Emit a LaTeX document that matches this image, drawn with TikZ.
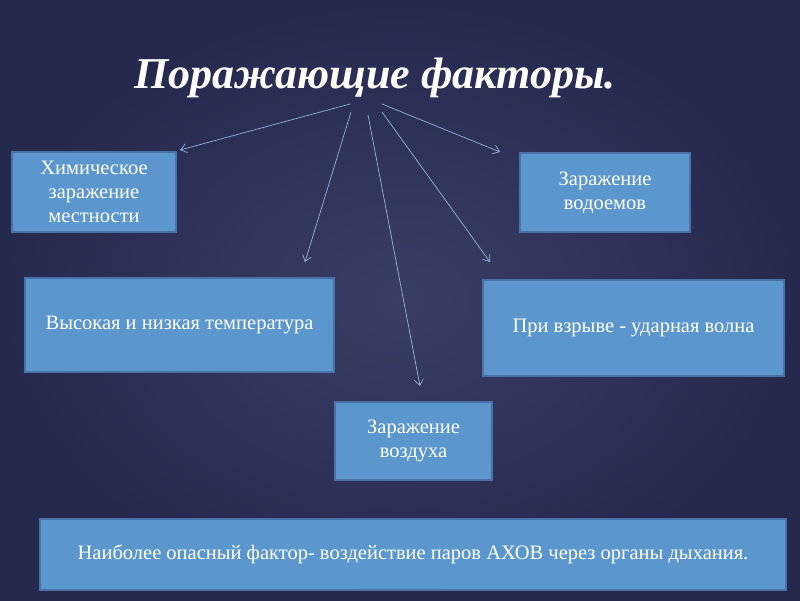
\documentclass[tikz,border=0pt]{standalone}
\usepackage{fontspec}
\setmainfont{Liberation Serif}
\usetikzlibrary{arrows.meta}
\definecolor{bgA}{HTML}{3A3E66}
\definecolor{bgB}{HTML}{26294E}
\definecolor{boxfill}{HTML}{5B96CC}
\definecolor{boxline}{HTML}{4A72A8}
\definecolor{arr}{HTML}{8FB4E0}
\begin{document}
\begin{tikzpicture}[x=1pt,y=-1pt,
  fbox/.style={draw=boxline,line width=1.5pt,fill=boxfill,text=white,font=\fontsize{20.5}{24}\selectfont,align=center,inner sep=0pt},
  arrline/.style={draw=arr,line width=0.7pt,-{Straight Barb[length=6pt,width=9pt]}}]
\useasboundingbox (0,0) rectangle (800,600);
\shade[inner color=bgA,outer color=bgB] (0,0) rectangle (800,600);
\node[text=white,font=\fontsize{44}{48}\selectfont\bfseries\itshape] (title) at (375,78) {Поражающие факторы.};
\node[fbox,minimum width=164pt,minimum height=80pt] (chem) at (94,192) {Химическое\\заражение\\местности};
\node[fbox,minimum width=170pt,minimum height=79pt] (water) at (605,192.5) {Заражение\\водоемов};
\node[fbox,minimum width=309pt,minimum height=94pt] (temp) at (179.5,325) {Высокая и низкая температура};
\node[fbox,minimum width=301pt,minimum height=96pt] (expl) at (633.5,328) {При взрыве - ударная волна};
\node[fbox,minimum width=157pt,minimum height=78pt] (air) at (413.5,441) {Заражение\\воздуха};
\node[fbox,minimum width=746pt,minimum height=71pt] (main) at (413,554.5) {Наиболее опасный фактор- воздействие паров АХОВ через органы дыхания.};
\coordinate (s1) at (350,104);
\coordinate (s2) at (351,112);
\coordinate (s3) at (368,115);
\coordinate (s4) at (382,112);
\coordinate (s5) at (382,104);
\coordinate (e1) at (180,150);
\coordinate (e2) at (305,262);
\coordinate (e3) at (420,386);
\coordinate (e4) at (490,262);
\coordinate (e5) at (500,152);
\draw[arrline] (s1) -- (e1);
\draw[arrline] (s2) -- (e2);
\draw[arrline] (s3) -- (e3);
\draw[arrline] (s4) -- (e4);
\draw[arrline] (s5) -- (e5);
\end{tikzpicture}
\end{document}
